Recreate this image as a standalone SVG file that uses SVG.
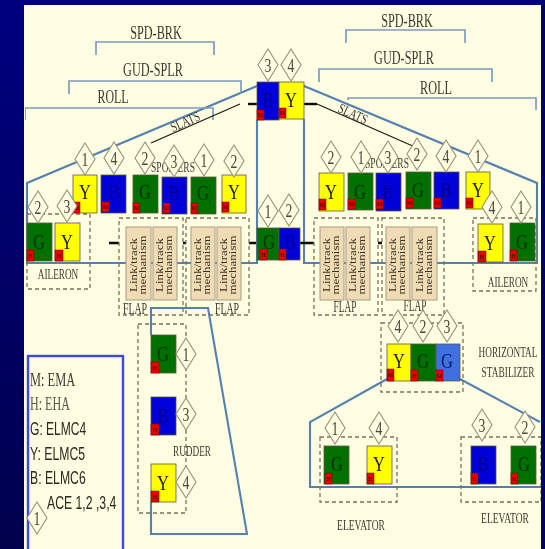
<svg xmlns="http://www.w3.org/2000/svg" width="545" height="549" viewBox="0 0 545 549">
<style>
text{font-family:"Liberation Serif","Times New Roman",serif;fill:#3c3a30;text-anchor:middle}
.lb{font-size:18px}
.sm{font-size:14px}
.fl{font-size:17px}
.a{font-size:22px;fill:#1a1a10}
.ag{fill:#003000}
.ab{fill:#000090}
.n{font-size:19px;fill:#4a4638}
.r{font-size:6px;fill:#300000}
.k{font-size:10px;fill:#3a3020}
.s{font-family:"Liberation Sans",Arial,sans-serif;font-size:18px;text-anchor:start;fill:#2a2a20}
.t{font-size:18px;text-anchor:start}
.ln{fill:none;stroke:#5580b0;stroke-width:2.1}
.br{fill:none;stroke:#7d9cbc;stroke-width:1.7}
.ds{fill:none;stroke:#77715f;stroke-width:1.3;stroke-dasharray:4 3}
.bk{fill:none;stroke:#1c1c14;stroke-width:1.3}
.th{fill:none;stroke:#101008;stroke-width:2.4}
.d{fill:#fffde2;stroke:#97907c;stroke-width:1.1}
.Y,.G,.B,.H{stroke:#5d5a40;stroke-width:.8}
.Y{fill:#ffff00}.G{fill:#007000}.B{fill:#0000d8}.H{fill:#3f6fe0}
.m{fill:#e60000;stroke:#700000;stroke-width:.5}
.f{fill:#f0dcb4;stroke:#a89c84;stroke-width:1}
</style>
<defs>
<linearGradient id="bg" x1="0" y1="0" x2="0" y2="1"><stop offset="0" stop-color="#000080"/><stop offset="1" stop-color="#00004c"/></linearGradient>
<polygon id="dm" class="d" points="0,-16 10,0 0,16 -10,0"/>
<filter id="soft" x="0" y="0" width="100%" height="100%"><feGaussianBlur stdDeviation="0.45"/></filter>
</defs>
<rect width="545" height="549" fill="url(#bg)"/>
<rect x="24" y="5" width="517" height="544" fill="#fffde2"/>
<g filter="url(#soft)">
<g id="connectors">
<path class="ln" d="M257,86 L27,183 V263 H257 V120"/>
<path class="ln" d="M304,86 L537,183 V263 H304 V119"/>
<path class="ln" d="M151,335 V308 H208 L247,534 H151 V502"/>
<path class="ln" d="M387,379 L310,422 V487 H541"/>
<path class="ln" d="M460,379 L540,422"/>
<path class="br" d="M96,55 V42 H214 V55"/>
<path class="br" d="M69,94 V81 H241 V94"/>
<path class="br" d="M25,120 V108 H213 V120"/>
<path class="br" d="M346,43 V30 H465 V43"/>
<path class="br" d="M319,82 V69 H492 V82"/>
<path class="br" d="M348,100 V98 H536 V110"/>
<path class="bk" d="M151,143 L240,104"/>
<path class="th" d="M248,104 H257"/>
<path class="th" d="M304,104 H317"/>
<path class="bk" d="M317,104 L415,147"/>
<path class="th" d="M109,243 H119 M183,243 H186 M249,243 H256 M300,243 H314 M378,243 H382"/>
<path class="ds" d="M27,214 H90 V289 H27 Z"/>
<path class="ds" d="M119,218 H183 V315 H119 Z"/>
<path class="ds" d="M186,218 H249 V315 H186 Z"/>
<path class="ds" d="M314,218 H378 V315 H314 Z"/>
<path class="ds" d="M382,218 H444 V315 H382 Z"/>
<path class="ds" d="M473,218 H536 V291 H473 Z"/>
<path class="ds" d="M138,324 H186 V513 H138 Z"/>
<path class="ds" d="M381,323 H463 V392 H381 Z"/>
<path class="ds" d="M320,437 H397 V502 H320 Z"/>
<path class="ds" d="M461,437 H541 V502 H461 Z"/>
</g>
<g id="labels">
<text class="lb" transform="translate(156,39) scale(.68,1)">SPD-BRK</text>
<text class="lb" transform="translate(153,76) scale(.68,1)">GUD-SPLR</text>
<text class="lb" transform="translate(113,103) scale(.66,1)">ROLL</text>
<text class="lb" transform="translate(407,27) scale(.68,1)">SPD-BRK</text>
<text class="lb" transform="translate(404,64) scale(.68,1)">GUD-SPLR</text>
<text class="lb" transform="translate(436,94) scale(.68,1)">ROLL</text>
<text class="sm" transform="translate(187,126) rotate(-24) scale(.75,1)">SLATS</text>
<text class="sm" transform="translate(351,118) rotate(25) scale(.75,1)">SLATS</text>
<text class="sm" transform="translate(173,172) scale(.68,1)">SPOILERS</text>
<text class="sm" transform="translate(387,168) scale(.68,1)">SPOILERS</text>
<text class="sm" transform="translate(58,279) scale(.66,1)">AILERON</text>
<text class="sm" transform="translate(508,287) scale(.66,1)">AILERON</text>
<text class="fl" transform="translate(135,314) scale(.58,1)">FLAP</text>
<text class="fl" transform="translate(227,314) scale(.58,1)">FLAP</text>
<text class="fl" transform="translate(345,312) scale(.55,1)">FLAP</text>
<text class="fl" transform="translate(415,311) scale(.55,1)">FLAP</text>
<text class="sm" transform="translate(192,456) scale(.66,1)">RUDDER</text>
<text class="sm" transform="translate(508,357) scale(.66,1)">HORIZONTAL</text>
<text class="sm" transform="translate(508,377) scale(.67,1)">STABILIZER</text>
<text class="sm" transform="translate(361,530) scale(.68,1)">ELEVATOR</text>
<text class="sm" transform="translate(505,523) scale(.68,1)">ELEVATOR</text>
</g>
<g id="flap-mechanisms">
<g id="flap1a"><rect class="f" x="126" y="227" width="25" height="73"/><text class="k" transform="translate(137,265) rotate(-90) scale(1.3,1)">Link/track</text><text class="k" transform="translate(146,265) rotate(-90) scale(1.3,1)">mechanism</text></g>
<g id="flap1b"><rect class="f" x="153" y="227" width="24" height="73"/><text class="k" transform="translate(163,265) rotate(-90) scale(1.3,1)">Link/track</text><text class="k" transform="translate(172,265) rotate(-90) scale(1.3,1)">mechanism</text></g>
<g id="flap2a"><rect class="f" x="191" y="227" width="24" height="73"/><text class="k" transform="translate(201,265) rotate(-90) scale(1.3,1)">Link/track</text><text class="k" transform="translate(210,265) rotate(-90) scale(1.3,1)">mechanism</text></g>
<g id="flap2b"><rect class="f" x="217" y="227" width="24" height="73"/><text class="k" transform="translate(227,265) rotate(-90) scale(1.3,1)">Link/track</text><text class="k" transform="translate(236,265) rotate(-90) scale(1.3,1)">mechanism</text></g>
<g id="flap3a"><rect class="f" x="320" y="227" width="24" height="73"/><text class="k" transform="translate(330,265) rotate(-90) scale(1.3,1)">Link/track</text><text class="k" transform="translate(339,265) rotate(-90) scale(1.3,1)">mechanism</text></g>
<g id="flap3b"><rect class="f" x="346" y="227" width="24" height="73"/><text class="k" transform="translate(356,265) rotate(-90) scale(1.3,1)">Link/track</text><text class="k" transform="translate(365,265) rotate(-90) scale(1.3,1)">mechanism</text></g>
<g id="flap4a"><rect class="f" x="386" y="227" width="24" height="73"/><text class="k" transform="translate(396,265) rotate(-90) scale(1.3,1)">Link/track</text><text class="k" transform="translate(405,265) rotate(-90) scale(1.3,1)">mechanism</text></g>
<g id="flap4b"><rect class="f" x="412" y="227" width="25" height="73"/><text class="k" transform="translate(423,265) rotate(-90) scale(1.3,1)">Link/track</text><text class="k" transform="translate(432,265) rotate(-90) scale(1.3,1)">mechanism</text></g>
</g>
<g id="slat-left"><rect class="B" x="257" y="82" width="22" height="38"/><rect class="m" x="257" y="110" width="7" height="10"/><text class="r" x="260.500" y="117">M</text><text class="a ab" transform="translate(268,107) scale(.75,1)">B</text></g>
<g id="slat-right"><rect class="Y" x="279" y="82" width="25" height="37"/><rect class="m" x="279" y="108" width="7" height="10"/><text class="r" x="282.500" y="115">M</text><text class="a" transform="translate(291,107) scale(.75,1)">Y</text></g>
<g id="flap-center-g"><rect class="G" x="257" y="228" width="22" height="32"/><rect class="m" x="260" y="249" width="7" height="11"/><text class="r" x="263.500" y="257">H</text><text class="a ag" transform="translate(269,249) scale(.75,1)">G</text></g>
<g id="flap-center-b"><rect class="B" x="279" y="228" width="21" height="32"/><rect class="m" x="279" y="249" width="7" height="11"/><text class="r" x="282.500" y="257">H</text><text class="a ab" transform="translate(290,249) scale(.75,1)">B</text></g>
<g id="sp-l1"><rect class="Y" x="73" y="175" width="24" height="38"/><rect class="m" x="73" y="202" width="7" height="11"/><text class="r" x="76.500" y="210">M</text><text class="a" transform="translate(85,199) scale(.75,1)">Y</text></g>
<g id="sp-l2"><rect class="B" x="101" y="175" width="25" height="38"/><rect class="m" x="102" y="202" width="7" height="10"/><text class="r" x="105.500" y="209">M</text><text class="a ab" transform="translate(114,199) scale(.75,1)">B</text></g>
<g id="sp-l3"><rect class="G" x="133" y="175" width="25" height="38"/><rect class="m" x="133" y="203" width="7" height="10"/><text class="r" x="136.500" y="210">M</text><text class="a ag" transform="translate(145,199) scale(.75,1)">G</text></g>
<g id="sp-l4"><rect class="B" x="162" y="177" width="25" height="37"/><rect class="m" x="163" y="203" width="7" height="10"/><text class="r" x="166.500" y="210">M</text><text class="a ab" transform="translate(174,200) scale(.75,1)">B</text></g>
<g id="sp-l5"><rect class="G" x="191" y="177" width="25" height="37"/><rect class="m" x="191" y="203" width="7" height="10"/><text class="r" x="194.500" y="210">M</text><text class="a ag" transform="translate(203,200) scale(.75,1)">G</text></g>
<g id="sp-l6"><rect class="Y" x="222" y="175" width="24" height="38"/><rect class="m" x="222" y="202" width="7" height="10"/><text class="r" x="225.500" y="209">M</text><text class="a" transform="translate(234,199) scale(.75,1)">Y</text></g>
<g id="sp-r1"><rect class="Y" x="319" y="173" width="25" height="38"/><rect class="m" x="319" y="199" width="7" height="11"/><text class="r" x="322.500" y="207">M</text><text class="a" transform="translate(331,199) scale(.75,1)">Y</text></g>
<g id="sp-r2"><rect class="G" x="348" y="173" width="25" height="37"/><rect class="m" x="348" y="199" width="7" height="10"/><text class="r" x="351.500" y="206">M</text><text class="a ag" transform="translate(360,199) scale(.75,1)">G</text></g>
<g id="sp-r3"><rect class="B" x="376" y="173" width="25" height="38"/><rect class="m" x="376" y="199" width="7" height="10"/><text class="r" x="379.500" y="206">M</text><text class="a ab" transform="translate(388,199) scale(.75,1)">B</text></g>
<g id="sp-r4"><rect class="G" x="406" y="172" width="25" height="37"/><rect class="m" x="406" y="198" width="7" height="10"/><text class="r" x="409.500" y="205">M</text><text class="a ag" transform="translate(418,197) scale(.75,1)">G</text></g>
<g id="sp-r5"><rect class="B" x="434" y="172" width="25" height="37"/><rect class="m" x="434" y="198" width="7" height="10"/><text class="r" x="437.500" y="205">M</text><text class="a ab" transform="translate(446,197) scale(.75,1)">B</text></g>
<g id="sp-r6"><rect class="Y" x="466" y="172" width="24" height="37"/><rect class="m" x="466" y="198" width="7" height="10"/><text class="r" x="469.500" y="205">M</text><text class="a" transform="translate(478,197) scale(.75,1)">Y</text></g>
<g id="ail-l1"><rect class="G" x="27" y="223" width="25" height="38"/><rect class="m" x="27" y="250" width="7" height="11"/><text class="r" x="30.500" y="258">H</text><text class="a ag" transform="translate(39,249) scale(.75,1)">G</text></g>
<g id="ail-l2"><rect class="Y" x="55" y="223" width="25" height="38"/><rect class="m" x="55" y="250" width="8" height="11"/><text class="r" x="59" y="258">H</text><text class="a" transform="translate(67,249) scale(.75,1)">Y</text></g>
<g id="ail-r1"><rect class="Y" x="478" y="224" width="25" height="38"/><rect class="m" x="478" y="251" width="8" height="11"/><text class="r" x="482" y="259">H</text><text class="a" transform="translate(490,250) scale(.75,1)">Y</text></g>
<g id="ail-r2"><rect class="G" x="510" y="223" width="25" height="38"/><rect class="m" x="510" y="250" width="7" height="11"/><text class="r" x="513.500" y="258">H</text><text class="a ag" transform="translate(522,249) scale(.75,1)">G</text></g>
<g id="rud-g"><rect class="G" x="151" y="335" width="25" height="38"/><rect class="m" x="151" y="362" width="8" height="11"/><text class="r" x="155" y="370">H</text><text class="a ag" transform="translate(163,361) scale(.75,1)">G</text></g>
<g id="rud-b"><rect class="B" x="151" y="397" width="25" height="38"/><rect class="m" x="151" y="424" width="8" height="11"/><text class="r" x="155" y="432">H</text><text class="a ab" transform="translate(163,423) scale(.75,1)">B</text></g>
<g id="rud-y"><rect class="Y" x="151" y="464" width="25" height="38"/><rect class="m" x="151" y="491" width="8" height="11"/><text class="r" x="155" y="499">H</text><text class="a" transform="translate(163,490) scale(.75,1)">Y</text></g>
<g id="hs-y"><rect class="Y" x="387" y="344" width="24" height="37"/><rect class="m" x="387" y="369" width="7" height="12"/><text class="r" x="390.500" y="377">M</text><text class="a" transform="translate(399,368) scale(.75,1)">Y</text></g>
<g id="hs-g"><rect class="G" x="411" y="344" width="25" height="37"/><rect class="m" x="411" y="370" width="7" height="11"/><text class="r" x="414.500" y="378">H</text><text class="a ag" transform="translate(423,368) scale(.75,1)">G</text></g>
<g id="hs-g2"><rect class="H" x="436" y="344" width="24" height="37"/><rect class="m" x="436" y="370" width="7" height="11"/><text class="r" x="439.500" y="378">M</text><text class="a" style="fill:#002060" transform="translate(447,368) scale(.75,1)">G</text></g>
<g id="el-g1"><rect class="G" x="324" y="446" width="25" height="38"/><rect class="m" x="325" y="473" width="7" height="11"/><text class="r" x="328.500" y="481">H</text><text class="a ag" transform="translate(337,471) scale(.75,1)">G</text></g>
<g id="el-y"><rect class="Y" x="367" y="446" width="25" height="38"/><rect class="m" x="367" y="473" width="7" height="11"/><text class="r" x="370.500" y="481">H</text><text class="a" transform="translate(379,471) scale(.75,1)">Y</text></g>
<g id="el-b"><rect class="B" x="471" y="446" width="25" height="38"/><rect class="m" x="471" y="473" width="7" height="11"/><text class="r" x="474.500" y="481">H</text><text class="a ab" transform="translate(483,471) scale(.75,1)">B</text></g>
<g id="el-g2"><rect class="G" x="511" y="446" width="25" height="38"/><rect class="m" x="511" y="473" width="7" height="11"/><text class="r" x="514.500" y="481">H</text><text class="a ag" transform="translate(524,471) scale(.75,1)">G</text></g>
<g id="ace-tags">
<use href="#dm" x="268" y="65"/><text class="n" transform="translate(268,72) scale(.72,1)">3</text>
<use href="#dm" x="291" y="65"/><text class="n" transform="translate(291,72) scale(.72,1)">4</text>
<use href="#dm" x="85" y="159"/><text class="n" transform="translate(85,166) scale(.72,1)">1</text>
<use href="#dm" x="114" y="158"/><text class="n" transform="translate(114,165) scale(.72,1)">4</text>
<use href="#dm" x="145" y="158"/><text class="n" transform="translate(145,165) scale(.72,1)">2</text>
<use href="#dm" x="174" y="161"/><text class="n" transform="translate(174,168) scale(.72,1)">3</text>
<use href="#dm" x="204" y="160"/><text class="n" transform="translate(204,167) scale(.72,1)">1</text>
<use href="#dm" x="234" y="161"/><text class="n" transform="translate(234,168) scale(.72,1)">2</text>
<use href="#dm" x="331" y="157"/><text class="n" transform="translate(331,164) scale(.72,1)">2</text>
<use href="#dm" x="361" y="157"/><text class="n" transform="translate(361,164) scale(.72,1)">1</text>
<use href="#dm" x="388" y="157"/><text class="n" transform="translate(388,164) scale(.72,1)">3</text>
<use href="#dm" x="417" y="154"/><text class="n" transform="translate(417,161) scale(.72,1)">2</text>
<use href="#dm" x="446" y="156"/><text class="n" transform="translate(446,163) scale(.72,1)">4</text>
<use href="#dm" x="478" y="156"/><text class="n" transform="translate(478,163) scale(.72,1)">1</text>
<use href="#dm" x="38" y="207"/><text class="n" transform="translate(38,214) scale(.72,1)">2</text>
<use href="#dm" x="67" y="206"/><text class="n" transform="translate(67,213) scale(.72,1)">3</text>
<use href="#dm" x="268" y="211"/><text class="n" transform="translate(268,218) scale(.72,1)">1</text>
<use href="#dm" x="289" y="210"/><text class="n" transform="translate(289,217) scale(.72,1)">2</text>
<use href="#dm" x="492" y="207"/><text class="n" transform="translate(492,214) scale(.72,1)">4</text>
<use href="#dm" x="521" y="207"/><text class="n" transform="translate(521,214) scale(.72,1)">1</text>
<use href="#dm" x="186" y="354"/><text class="n" transform="translate(186,361) scale(.72,1)">1</text>
<use href="#dm" x="186" y="414"/><text class="n" transform="translate(186,421) scale(.72,1)">3</text>
<use href="#dm" x="186" y="482"/><text class="n" transform="translate(186,489) scale(.72,1)">4</text>
<use href="#dm" x="398" y="326"/><text class="n" transform="translate(398,333) scale(.72,1)">4</text>
<use href="#dm" x="423" y="326"/><text class="n" transform="translate(423,333) scale(.72,1)">2</text>
<use href="#dm" x="447" y="326"/><text class="n" transform="translate(447,333) scale(.72,1)">3</text>
<use href="#dm" x="335" y="428"/><text class="n" transform="translate(335,435) scale(.72,1)">1</text>
<use href="#dm" x="379" y="428"/><text class="n" transform="translate(379,435) scale(.72,1)">4</text>
<use href="#dm" x="482" y="425"/><text class="n" transform="translate(482,432) scale(.72,1)">3</text>
<use href="#dm" x="525" y="427"/><text class="n" transform="translate(525,434) scale(.72,1)">2</text>
</g>
<g id="legend">
<rect x="28" y="356" width="95" height="200" fill="none" stroke="#3a46e6" stroke-width="2.4"/>
<text class="t" transform="translate(30,386) scale(.69,1)">M:  EMA</text>
<text class="t" style="fill:#5a5848" transform="translate(30,410) scale(.67,1)">H:  EHA</text>
<text class="s" transform="translate(30,435) scale(.67,1)">G:  ELMC4</text>
<text class="s" transform="translate(30,460) scale(.68,1)">Y:  ELMC5</text>
<text class="s" transform="translate(30,484) scale(.68,1)">B:  ELMC6</text>
<text class="s" transform="translate(47,509) scale(.68,1)">ACE 1,2 ,3,4</text>
<use href="#dm" x="37" y="518"/><text class="n" transform="translate(37,525) scale(.72,1)">1</text>
</g>
</g>
<rect x="541" y="0" width="4" height="549" fill="#000070"/>
</svg>
